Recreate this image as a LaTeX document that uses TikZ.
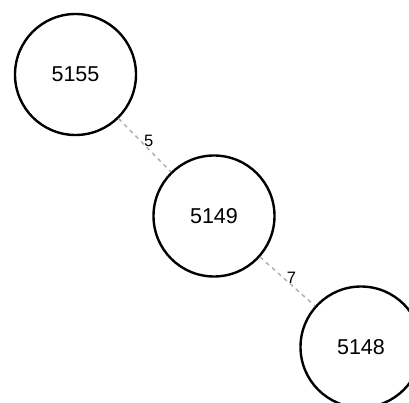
\documentclass[tikz,border=0pt]{standalone}
\usepackage{fontspec}
\setmainfont{Liberation Sans}
\begin{document}
\begin{tikzpicture}[x=1pt,y=-1pt,
  vtx/.style={draw=black,line width=2.4pt,circle,minimum size=121pt,inner sep=0pt,font=\fontsize{21.5}{24}\selectfont},
  link/.style={draw=black!30,line width=1.5pt,dash pattern=on 4pt off 4pt},
  wlab/.style={font=\fontsize{16.5}{18}\selectfont,inner sep=0pt,xshift=4pt,yshift=4pt}]
\useasboundingbox (0,0) rectangle (409,403);
\clip (0,0) rectangle (409,403);
\fill[white] (0,0) rectangle (409,403);
\node[vtx] (a) at (75.5,74.5) {5155};
\node[vtx] (b) at (214,216) {5149};
\node[vtx] (c) at (361,347) {5148};
\draw[link] (a) -- node[wlab] (la) {5} (b);
\draw[link] (b) -- node[wlab] (lb) {7} (c);
\end{tikzpicture}
\end{document}
